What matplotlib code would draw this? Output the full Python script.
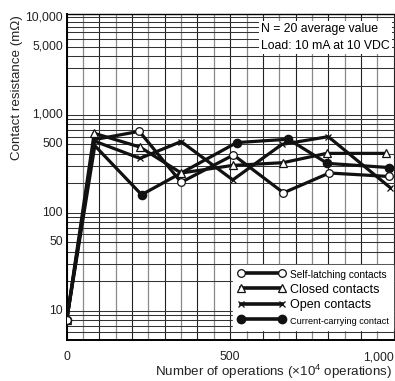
import matplotlib

matplotlib.use("Agg")
import matplotlib.pyplot as plt
from matplotlib.lines import Line2D
from matplotlib.ticker import FixedLocator, LogLocator, NullFormatter, MultipleLocator

plt.rcParams["font.family"] = ["Liberation Sans", "DejaVu Sans"]
plt.rcParams["mathtext.fontset"] = "custom"
plt.rcParams["mathtext.rm"] = "Liberation Sans"
plt.rcParams["mathtext.it"] = "Liberation Sans"

# operations (x10^4) and contact resistance (mOhm) per contact type
self_x = [0, 85, 222, 350, 510, 663, 803, 985]
self_y = [8, 560, 680, 205, 390, 160, 255, 235]

closed_x = [0, 84, 224, 350, 508, 661, 795, 975]
closed_y = [8, 650, 470, 255, 305, 325, 405, 405]

open_x = [0, 85, 224, 350, 508, 658, 800, 990]
open_y = [8, 540, 360, 535, 217, 500, 600, 180]

carry_x = [0, 86, 229, 520, 678, 797, 985]
carry_y = [8, 485, 153, 522, 565, 320, 290]

x_ticks = [0, 500, 1000]
x_labels = ["0", "500", "1,000"]
y_ticks = [10, 50, 100, 500, 1000, 5000, 10000]
y_labels = ["10", "50", "100", "500", "1,000", "5,000", "10,000"]

fig = plt.figure(figsize=(3.95, 3.81), dpi=100)
ax = fig.add_axes([66.7 / 395, 1 - 340 / 381, 1 - 66.7 / 395, (340 - 14.3) / 381])

ax.set_yscale("log")
ax.set_xlim(0, 1004)
ax.set_ylim(5, 10700)

# grid: dark every 100 and grey every 50 on x, 1..9 per decade on y
ax.xaxis.set_major_locator(MultipleLocator(100))
ax.xaxis.set_minor_locator(FixedLocator(list(range(50, 1000, 100))))
ax.xaxis.set_major_formatter(NullFormatter())
ax.yaxis.set_major_locator(LogLocator(base=10, subs=range(1, 10)))
ax.yaxis.set_minor_locator(FixedLocator([]))
ax.yaxis.set_major_formatter(NullFormatter())
ax.yaxis.set_minor_formatter(NullFormatter())
ax.grid(True, which="major", axis="y", color="#333333", lw=0.75)
ax.grid(True, which="major", axis="x", color="#222222", lw=0.8)
ax.grid(True, which="minor", axis="x", color="#8a8a8a", lw=0.9)
ax.tick_params(which="both", length=0)
ax.set_axisbelow(True)

for side in ["left", "bottom"]:
    ax.spines[side].set_linewidth(1.4)
ax.spines["top"].set_linewidth(1.0)
ax.spines["right"].set_visible(False)

for xv, lab in zip(x_ticks, x_labels):
    ax.text(xv, -0.035, lab, transform=ax.get_xaxis_transform(),
            ha="right" if xv == 1000 else "center", va="top", fontsize=8.8,
            color="#222222")
for yv, lab in zip(y_ticks, y_labels):
    ax.text(-0.012, yv, lab, transform=ax.get_yaxis_transform(),
            ha="right", va="center", fontsize=8.8, color="#222222")

# only the closed-contact series is marked where the curves bunch up at ~85
def skip_second(n):
    return [i for i in range(n) if i != 1]

line_kw = dict(color="#111111", lw=2.3, mew=0.9, zorder=3)
ax.plot(carry_x, carry_y, marker="o", ms=6, mfc="#111111", mec="#111111",
        markevery=skip_second(len(carry_x)), **line_kw)
ax.plot(open_x, open_y, marker="x", ms=4, mec="#111111",
        markevery=skip_second(len(open_x)), **line_kw)
ax.plot(closed_x, closed_y, marker="^", ms=5.5, mfc="white", mec="#111111", **line_kw)
ax.plot(self_x, self_y, marker="o", ms=5.5, mfc="white", mec="#111111",
        markevery=skip_second(len(self_x)), **line_kw)

handles = [
    Line2D([], [], color="#111111", lw=2.6, marker="o", ms=5.5, mfc="white", mec="#111111", mew=0.9),
    Line2D([], [], color="#111111", lw=2.6, marker="^", ms=5.5, mfc="white", mec="#111111", mew=0.9),
    Line2D([], [], color="#111111", lw=2.6, marker="x", ms=4, mec="#111111", mew=0.9),
    Line2D([], [], color="#111111", lw=2.6, marker="o", ms=6, mfc="#111111", mec="#111111"),
]
labels = ["Self-latching contacts", "Closed contacts", "Open contacts", "Current-carrying contact"]
leg = ax.legend(handles, labels, loc="lower right", bbox_to_anchor=(0.995, 0.03),
                borderaxespad=0, numpoints=2, handlelength=3.9, handletextpad=0.35,
                labelspacing=0.3, fontsize=9, frameon=True, fancybox=False,
                framealpha=1, facecolor="white", edgecolor="white",
                borderpad=0.35)
leg.set_zorder(5)
texts = leg.get_texts()
texts[0].set_fontsize(7.3)
texts[3].set_fontsize(6.6)

ax.text(0.592, 0.972, "N = 20 average value\nLoad: 10 mA at 10 VDC",
        transform=ax.transAxes, ha="left", va="top", fontsize=8.8,
        linespacing=1.55, zorder=6,
        bbox=dict(facecolor="white", edgecolor="none", pad=1.5))

fig.text(17 / 395, 1 - 88 / 381, "Contact resistance (mΩ)", rotation=90,
         ha="center", va="center", fontsize=9.6, color="#222222")
fig.text(274 / 395, 1 - 372 / 381, "Number of operations (×10$^{4}$ operations)",
         ha="center", va="center", fontsize=9.6, color="#222222")

fig.savefig("out.png", dpi=100)
plt.close(fig)
